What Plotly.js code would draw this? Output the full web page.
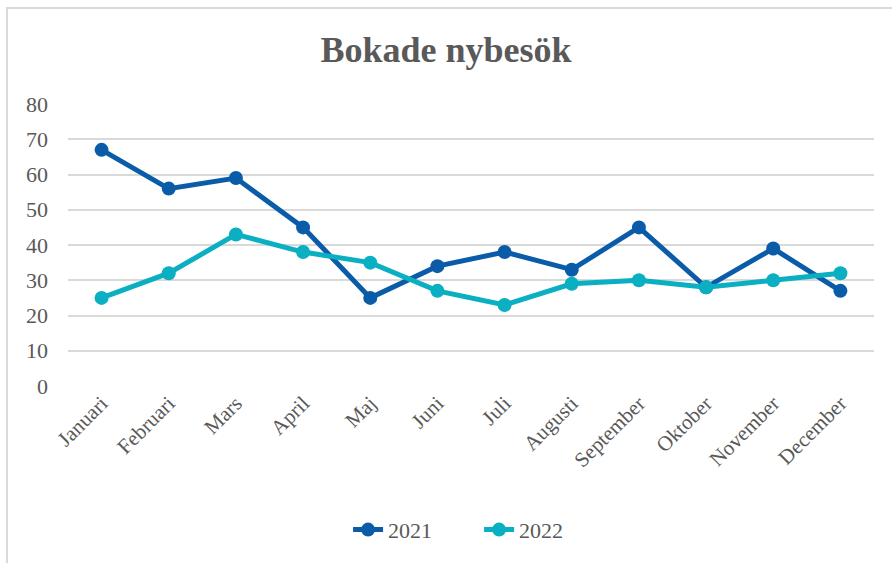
<!DOCTYPE html>
<html><head><meta charset="utf-8">
<script src="https://cdn.plot.ly/plotly-3.0.1.min.js"></script>
<style>body{margin:0;background:#fff}#wrap{position:relative;width:892px;height:563px}#chart{width:892px;height:563px}#frame{position:absolute;left:6px;top:7px;width:900px;height:600px;border-left:2px solid #d9d9d9;border-top:2px solid #d9d9d9;pointer-events:none}</style>
</head><body><div id="wrap"><div id="chart"></div><div id="frame"></div></div>
<script>
const months = ["Januari","Februari","Mars","April","Maj","Juni","Juli","Augusti","September","Oktober","November","December"];
const values2021 = [67,56,59,45,25,34,38,33,45,28,39,27];
const values2022 = [25,32,43,38,35,27,23,29,30,28,30,32];
const font = "'Liberation Serif', 'Times New Roman', serif";
const traces = [
 {x: months, y: values2021, name: "2021", type: "scatter", mode: "lines+markers",
  line: {color: "#0b5ca8", width: 5}, marker: {color: "#0b5ca8", size: 14}},
 {x: months, y: values2022, name: "2022", type: "scatter", mode: "lines+markers",
  line: {color: "#0aafc2", width: 5}, marker: {color: "#0aafc2", size: 14}}
];
const layout = {
 width: 892, height: 563,
 margin: {l: 68, r: 18, t: 104, b: 177},
 paper_bgcolor: "#fff", plot_bgcolor: "#fff",
 font: {family: font, color: "#595959"},
 title: {text: "<b>Bokade nybesök</b>", x: 0.5, xanchor: "center", y: 0.912, yanchor: "middle", font: {family: font, size: 36, color: "#595959"}},
 xaxis: {type: "category", range: [-0.5, 11.5], tickangle: -45, showgrid: false, zeroline: false, showline: false, ticks: "", tickfont: {size: 21, color: "#595959", family: font}},
 yaxis: {range: [0, 80], dtick: 10, tick0: 0, showgrid: true, gridcolor: "#d9d9d9", gridwidth: 1.5, zeroline: false, showline: false, ticks: "", ticklabelstandoff: 19, tickfont: {size: 22, color: "#595959", family: font}},
 showlegend: true,
 legend: {orientation: "h", x: 0.51, xanchor: "center", y: -0.51, yanchor: "middle", font: {size: 22, color: "#595959", family: font}, entrywidth: 86, entrywidthmode: "pixels"},
};
Plotly.newPlot("chart", traces, layout, {displayModeBar: false});
</script></body></html>
